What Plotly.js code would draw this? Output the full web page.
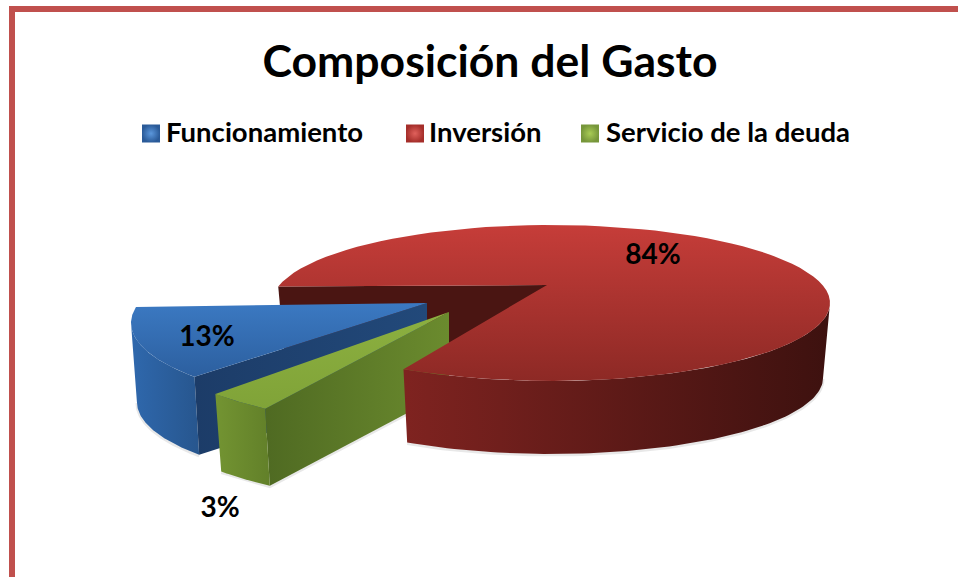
<!DOCTYPE html>
<html><head><meta charset="utf-8">
<script src="https://cdn.plot.ly/plotly-3.0.1.min.js"></script>
<style>html,body{margin:0;padding:0;background:#fff;overflow:hidden}</style>
</head><body><div id="chart" style="width:958px;height:577px"></div>
<script>
// ---- data
const categories = ['Funcionamiento', 'Inversión', 'Servicio de la deuda'];
const values = [13, 84, 3];
const chartTitle = 'Composición del Gasto';

// ---- view settings (perspective pie; angles come from values)
const startAngle = 229.5, tilt = 0.23, sqrtT = Math.sqrt(1 - tilt * tilt);
const apexX = [427, 547, 449], apexY = [303, 285, 312];
const shiftX = [0, 4, 0];
const radX = [296, 279, 305], radY = [87, 78, 94];
const depth = [79, 75, 79], baseScale = [0.98, 0.975, 0.975];
const nudgeStart = [-1.5, -1.5, 0], nudgeEnd = [0, 4.2, 0];
const labelX = [207, 653, 220], labelY = [339, 257, 510];
const legendX = [151, 415, 590], legendY = [133.5, 133.5, 133.5];
const legendTextX = [166, 429, 606], legendTextY = [135, 135, 135];
const topColors = [['#2c5f9f', '#3b79c2'], ['#8d2925', '#c63d39'], ['#80a338', '#8cb040']];
const wallColors = [['#2f68ad', '#27568e'], ['#7f2320', '#3d110f'], ['#739432', '#628029']];
const cutColors = [['#1c3c68', '#22497a'], ['#4a1512', '#4a1512'], ['#4f6a22', '#6b8b2e']];
const swatchCentre = ['#5b97dc', '#e0615c', '#a9cc55'];
const swatchEdge = ['#2a5a98', '#a52e2a', '#76963a'];

const rad = d => d * Math.PI / 180;
function pt(i, a, low) {
  const c = Math.cos(rad(a)), s = Math.sin(rad(a)), den = 1 + tilt * s;
  const xn = c * sqrtT / den, yn = (s + tilt) / den;
  const k = low ? baseScale[i] : 1;
  const cy = apexY[i] + tilt * radY[i] + (low ? depth[i] : 0);
  return [apexX[i] + shiftX[i] + radX[i] * k * xn, cy - radY[i] * k * yn];
}
function arc(i, a0, a1, low) {
  const n = 80, o = [];
  for (let j = 0; j <= n; j++) o.push(pt(i, a0 + (a1 - a0) * j / n, low));
  return o;
}
function apex(i, low) {
  return low ? [apexX[i], apexY[i] + depth[i]] : [apexX[i], apexY[i]];
}
function poly(pts, colors, type) {
  return {
    x: pts.map(p => p[0]), y: pts.map(p => p[1]), type: 'scatter', mode: 'lines',
    fill: 'toself', line: {width: 0, color: colors[0]}, hoverinfo: 'skip', showlegend: false,
    fillgradient: {type: type, colorscale: [[0, colors[0]], [1, colors[1]]]}
  };
}
function softEdge(pts) {
  return {
    x: pts.map(p => p[0]), y: pts.map(p => p[1] + 1), type: 'scatter', mode: 'lines',
    line: {width: 3, color: 'rgba(0,0,0,0.09)'}, hoverinfo: 'skip', showlegend: false
  };
}
// slice angular extents, clockwise from the start
let cum = 0;
const ang = values.map((v, i) => {
  const a0 = startAngle - cum * 3.6 + nudgeStart[i];
  cum += v;
  const a1 = startAngle - cum * 3.6 + nudgeEnd[i];
  return [a0, a1];
});
const norm = a => ((a % 360) + 360) % 360;
const bA = ang[0], rA = ang[1], gA = ang[2];
const traces = [];
// red cut face towards the gap
traces.push(poly([apex(1), pt(1, rA[0]), pt(1, rA[0], true), apex(1, true)], cutColors[1], 'horizontal'));
// blue
traces.push(softEdge(arc(0, 193.3, bA[0], true)));
traces.push(poly(arc(0, 193.3, bA[0]).concat(arc(0, bA[0], 193.3, true)), wallColors[0], 'horizontal'));
traces.push(poly([apex(0), pt(0, bA[0]), pt(0, bA[0], true), apex(0, true)], cutColors[0], 'horizontal'));
traces.push(poly([apex(0)].concat(arc(0, bA[1], bA[0])), topColors[0], 'vertical'));
// green
const gLo = norm(gA[1]), gHi = norm(gA[0]);
traces.push(softEdge([pt(2, gLo, true), pt(2, gHi, true), apex(2, true)]));
traces.push(poly([apex(2), pt(2, gHi), pt(2, gHi, true), apex(2, true)], cutColors[2], 'horizontal'));
traces.push(poly(arc(2, gLo, gHi).concat(arc(2, gHi, gLo, true)), wallColors[2], 'horizontal'));
traces.push(poly([apex(2)].concat(arc(2, gLo, gHi)), topColors[2], 'vertical'));
// red
const rEnd = norm(rA[1]);
traces.push(softEdge(arc(1, rEnd, 346.7, true)));
traces.push(poly(arc(1, rEnd, 346.7).concat(arc(1, 346.7, rEnd, true)), wallColors[1], 'horizontal'));
traces.push(poly([apex(1)].concat(arc(1, rA[0], rA[1])), topColors[1], 'vertical'));
// value labels
traces.push({
  x: labelX, y: labelY, type: 'scatter', mode: 'text', text: values.map(v => v + '%'),
  textposition: 'middle center', hoverinfo: 'skip', showlegend: false,
  textfont: {family: 'Lato, sans-serif', size: 28, color: '#000', weight: 700}
});
// legend row
traces.push({
  x: legendX, y: legendY, type: 'scatter', mode: 'markers', hoverinfo: 'skip', showlegend: false,
  marker: {symbol: 'square', size: 18, color: swatchEdge, gradient: {type: 'radial', color: swatchCentre}}
});
traces.push({
  x: legendTextX, y: legendTextY, type: 'scatter', mode: 'text', text: categories,
  textposition: 'middle right', hoverinfo: 'skip', showlegend: false, cliponaxis: false,
  textfont: {family: 'Lato, sans-serif', size: 27.5, color: '#000', weight: 700}
});

const layout = {
  width: 958, height: 577, margin: {l: 0, r: 0, t: 0, b: 0},
  paper_bgcolor: '#fff', plot_bgcolor: '#fff', showlegend: false,
  title: {text: '<b>' + chartTitle + '</b>', x: 490 / 958, xanchor: 'center', y: 1 - 61 / 577, yanchor: 'middle',
          font: {family: 'Lato, sans-serif', size: 44.5, color: '#000'}},
  xaxis: {range: [0, 958], visible: false, fixedrange: true},
  yaxis: {range: [577, 0], visible: false, fixedrange: true},
  shapes: [
    {type: 'rect', xref: 'x', yref: 'y', x0: 9, x1: 958, y0: 6, y1: 12, fillcolor: '#c0504d', line: {width: 0}},
    {type: 'rect', xref: 'x', yref: 'y', x0: 9, x1: 15, y0: 6, y1: 577, fillcolor: '#c0504d', line: {width: 0}}
  ]
};
Plotly.newPlot('chart', traces, layout, {displayModeBar: false, staticPlot: true});
</script></body></html>
